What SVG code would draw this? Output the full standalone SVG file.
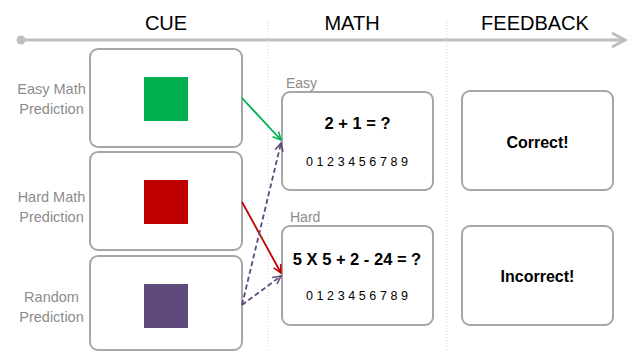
<svg xmlns="http://www.w3.org/2000/svg" width="634" height="352" viewBox="0 0 634 352">
<style>
.box{fill:#fff;stroke:#a6a6a6;stroke-width:2}
.hdr{font-family:"Liberation Sans",Arial,sans-serif;font-size:20px;fill:#000;text-anchor:middle}
.lbl{font-family:"Liberation Sans",Arial,sans-serif;font-size:14.5px;fill:#8c8c8c;text-anchor:middle}
.tag{font-family:"Liberation Sans",Arial,sans-serif;font-size:14px;fill:#8c8c8c}
.eq{font-family:"Liberation Sans",Arial,sans-serif;font-size:16.5px;font-weight:bold;fill:#000;text-anchor:middle}
.dig{font-family:"Liberation Sans",Arial,sans-serif;font-size:12.5px;fill:#000;text-anchor:middle}
.fb{font-family:"Liberation Sans",Arial,sans-serif;font-size:16px;font-weight:bold;fill:#000;text-anchor:middle}
.sep{stroke:#d0d0d0;stroke-width:1;stroke-dasharray:1,2}
</style>
<defs>
<marker id="mg" viewBox="0 0 10 10" refX="9" refY="5" markerWidth="10" markerHeight="10" markerUnits="userSpaceOnUse" orient="auto"><path d="M1,1 L9,5 L1,9" fill="none" stroke="#00b050" stroke-width="1.6"/></marker>
<marker id="mr" viewBox="0 0 10 10" refX="9" refY="5" markerWidth="10" markerHeight="10" markerUnits="userSpaceOnUse" orient="auto"><path d="M1,1 L9,5 L1,9" fill="none" stroke="#c00000" stroke-width="1.6"/></marker>
<marker id="mp" viewBox="0 0 10 10" refX="9" refY="5" markerWidth="10" markerHeight="10" markerUnits="userSpaceOnUse" orient="auto"><path d="M1,1 L9,5 L1,9" fill="none" stroke="#604a7b" stroke-width="1.6"/></marker>
</defs>
<rect width="634" height="352" fill="#fff"/>
<g id="timeline">
<line x1="21" y1="40" x2="625" y2="40" stroke="#bfbfbf" stroke-width="3"/>
<circle cx="21" cy="40" r="4.5" fill="#bfbfbf"/>
<path d="M612,33 L625,40 L612,47" fill="none" stroke="#bfbfbf" stroke-width="3"/>
<line class="sep" x1="268" y1="22" x2="268" y2="352"/>
<line class="sep" x1="447" y1="22" x2="447" y2="352"/>
</g>
<g id="headers">
<text class="hdr" x="166" y="30">CUE</text>
<text class="hdr" x="352" y="30">MATH</text>
<text class="hdr" x="535" y="30">FEEDBACK</text>
</g>
<g id="cue-easy">
<rect class="box" x="90" y="49" width="152" height="98" rx="8"/>
<rect x="144" y="77" width="44" height="44" fill="#00b050"/>
<text class="lbl" x="51.5" y="94">Easy Math</text>
<text class="lbl" x="51.5" y="114">Prediction</text>
</g>
<g id="cue-hard">
<rect class="box" x="90" y="152" width="152" height="98" rx="8"/>
<rect x="144" y="180" width="44" height="44" fill="#c00000"/>
<text class="lbl" x="51.5" y="202">Hard Math</text>
<text class="lbl" x="51.5" y="222">Prediction</text>
</g>
<g id="cue-random">
<rect class="box" x="90" y="256" width="152" height="94" rx="8"/>
<rect x="144" y="284" width="44" height="44" fill="#604a7b"/>
<text class="lbl" x="51.5" y="302">Random</text>
<text class="lbl" x="51.5" y="322">Prediction</text>
</g>
<g id="math-easy">
<text class="tag" x="286" y="88">Easy</text>
<rect class="box" x="282" y="92" width="151" height="98" rx="8"/>
<text class="eq" x="357.5" y="129">2 + 1 = ?</text>
<text class="dig" x="357" y="166" textLength="102">0 1 2 3 4 5 6 7 8 9</text>
</g>
<g id="math-hard">
<text class="tag" x="290" y="222">Hard</text>
<rect class="box" x="282" y="226" width="151" height="99" rx="8"/>
<text class="eq" x="357" y="265">5 X 5 + 2 - 24 = ?</text>
<text class="dig" x="357" y="300" textLength="102">0 1 2 3 4 5 6 7 8 9</text>
</g>
<g id="fb-correct">
<rect class="box" x="462" y="91" width="151" height="99" rx="8"/>
<text class="fb" x="537.5" y="148">Correct!</text>
</g>
<g id="fb-incorrect">
<rect class="box" x="462" y="226" width="151" height="99" rx="8"/>
<text class="fb" x="537.5" y="282">Incorrect!</text>
</g>
<g id="connectors" fill="none">
<line x1="242" y1="98" x2="281" y2="140" stroke="#00b050" stroke-width="1.8" marker-end="url(#mg)"/>
<line x1="242" y1="202" x2="281" y2="273" stroke="#c00000" stroke-width="1.8" marker-end="url(#mr)"/>
<line x1="242" y1="305" x2="281" y2="143" stroke="#604a7b" stroke-width="1.8" stroke-dasharray="5,3" marker-end="url(#mp)"/>
<line x1="242" y1="305" x2="281" y2="276" stroke="#604a7b" stroke-width="1.8" stroke-dasharray="5,3" marker-end="url(#mp)"/>
</g>
</svg>
